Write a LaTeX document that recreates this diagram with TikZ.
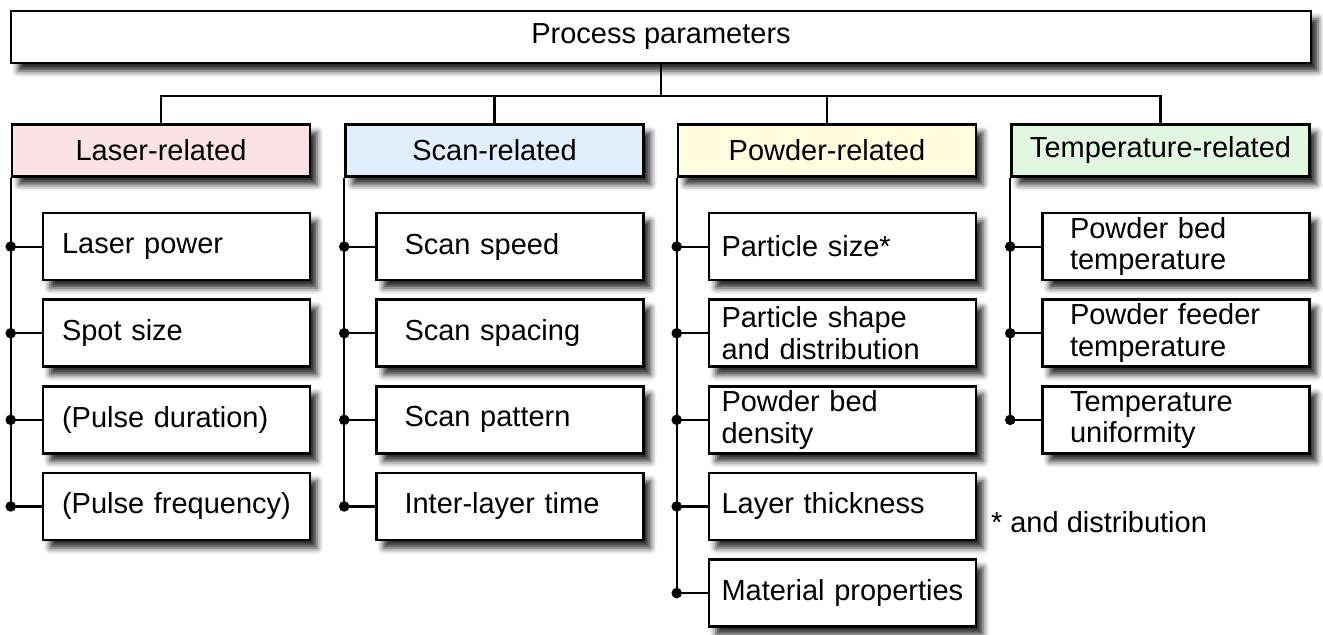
\documentclass[tikz,border=0pt]{standalone}
\usepackage{fontspec}
\setmainfont{Liberation Sans}
\usetikzlibrary{positioning, shadows.blur}
\definecolor{laserpink}{HTML}{FCE3E3}
\definecolor{scanblue}{HTML}{E3EEFC}
\definecolor{powderyellow}{HTML}{FFFCE0}
\definecolor{tempgreen}{HTML}{E1F7E1}

\begin{document}
\begin{tikzpicture}[x=0.02cm, y=-0.02cm,
     node distance = 3.4mm and 3mm,
        box/.style = {rectangle, draw, line width=1.5pt, fill=#1,
                      blur shadow={shadow xshift=4pt, shadow yshift=-4.5pt,
                                   shadow blur radius=3.5pt, shadow opacity=85},
                      font=\fontsize{16.5}{18}\selectfont},
      group/.style = {box=#1, minimum width=5.96cm, minimum height=1.04cm,
                      inner sep=0pt},
 item/.style 2 args = {box=white, minimum height=1.34cm, inner ysep=0pt,
                      inner xsep=#1, text width=#2, align=left},
       conn/.style = {line width=1.2pt},
        dot/.style = {circle, fill, inner sep=0pt, minimum size=6pt}
                        ]
\useasboundingbox (0,0) rectangle (1323,635);
% top and groups
\node (top) [box=white, minimum width=26.0cm, minimum height=1.04cm] at (661,37) {Process parameters};
\node (laser)  [group=laserpink]    at (161,150.5)  {Laser-related};
\node (scan)   [group=scanblue]     at (494.5,150.5) {Scan-related};
\node (powder) [group=powderyellow] at (827,150.5)  {Powder-related};
\node (temp)   [group=tempgreen]    at (1160.5,150.5) {Temperature-related};
\coordinate (bus) at (661,96);
\draw[conn] (top.south) -- (bus);
\draw[conn] (laser.north) |- (bus);
\draw[conn] (scan.north) |- (bus);
\draw[conn] (powder.north) |- (bus);
\draw[conn] (temp.north) |- (bus);

% laser
\node (l1) [item={0.38cm}{4.58cm}, below=0.68cm of laser, xshift=0.31cm] {Laser power};
\node (l2) [item={0.38cm}{4.58cm}, below=of l1] {Spot size};
\node (l3) [item={0.38cm}{4.58cm}, below=of l2] {(Pulse duration)};
\node (l4) [item={0.38cm}{4.58cm}, below=of l3] {(Pulse frequency)};
\draw[conn] (laser.south west) -- (laser.south west |- l4.west);
\draw[conn] (l1.west) -- (laser.south west |- l1.west) node[dot] {};
\draw[conn] (l2.west) -- (laser.south west |- l2.west) node[dot] {};
\draw[conn] (l3.west) -- (laser.south west |- l3.west) node[dot] {};
\draw[conn] (l4.west) -- (laser.south west |- l4.west) node[dot] {};

% scan
\node (s1) [item={0.56cm}{4.22cm}, below=0.68cm of scan, xshift=0.31cm] {Scan speed};
\node (s2) [item={0.56cm}{4.22cm}, below=of s1] {Scan spacing};
\node (s3) [item={0.56cm}{4.22cm}, below=of s2] {Scan pattern};
\node (s4) [item={0.56cm}{4.22cm}, below=of s3] {Inter-layer time};
\draw[conn] (scan.south west) -- (scan.south west |- s4.west);
\draw[conn] (s1.west) -- (scan.south west |- s1.west) node[dot] {};
\draw[conn] (s2.west) -- (scan.south west |- s2.west) node[dot] {};
\draw[conn] (s3.west) -- (scan.south west |- s3.west) node[dot] {};
\draw[conn] (s4.west) -- (scan.south west |- s4.west) node[dot] {};

% powder
\node (p1) [item={0.25cm}{4.84cm}, below=0.68cm of powder, xshift=0.31cm] {Particle size*};
\node (p2) [item={0.25cm}{4.84cm}, below=of p1] {Particle shape\\and distribution};
\node (p3) [item={0.25cm}{4.84cm}, below=of p2] {Powder bed\\density};
\node (p4) [item={0.25cm}{4.84cm}, below=of p3] {Layer thickness};
\node (p5) [item={0.25cm}{4.84cm}, below=of p4] {Material properties};
\draw[conn] (powder.south west) -- (powder.south west |- p5.west);
\draw[conn] (p1.west) -- (powder.south west |- p1.west) node[dot] {};
\draw[conn] (p2.west) -- (powder.south west |- p2.west) node[dot] {};
\draw[conn] (p3.west) -- (powder.south west |- p3.west) node[dot] {};
\draw[conn] (p4.west) -- (powder.south west |- p4.west) node[dot] {};
\draw[conn] (p5.west) -- (powder.south west |- p5.west) node[dot] {};

% temperature
\node (t1) [item={0.55cm}{4.24cm}, below=0.68cm of temp, xshift=0.31cm] {Powder bed\\temperature};
\node (t2) [item={0.55cm}{4.24cm}, below=of t1] {Powder feeder\\temperature};
\node (t3) [item={0.55cm}{4.24cm}, below=of t2] {Temperature\\uniformity};
\draw[conn] (temp.south west) -- (temp.south west |- t3.west);
\draw[conn] (t1.west) -- (temp.south west |- t1.west) node[dot] {};
\draw[conn] (t2.west) -- (temp.south west |- t2.west) node[dot] {};
\draw[conn] (t3.west) -- (temp.south west |- t3.west) node[dot] {};

\node (note) [font=\fontsize{16.5}{18}\selectfont] at (1099,522) {* and distribution};
\end{tikzpicture}
\end{document}
